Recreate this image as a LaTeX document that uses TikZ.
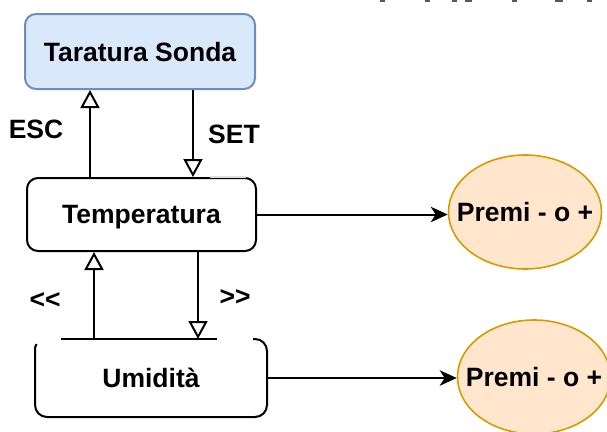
\documentclass[tikz,border=0pt]{standalone}
\usepackage{fontspec}
\setmainfont{Liberation Sans}
\usetikzlibrary{arrows.meta,calc,shapes.geometric}
\definecolor{blueFill}{HTML}{DAE8FC}
\definecolor{blueLine}{HTML}{6C8EBF}
\definecolor{orFill}{HTML}{FFE6CC}
\definecolor{orLine}{HTML}{D79B00}
\begin{document}
\begin{tikzpicture}[x=1pt,y=-1pt,
  every node/.style={font=\bfseries\fontsize{26.5}{30}\selectfont, inner sep=0pt, text depth=0pt},
  boxline/.style={draw=black, line width=2pt},
  box/.style={rectangle, rounded corners=11pt, line width=2pt, minimum width=#1, minimum height=74pt},
  oval/.style={ellipse, draw=orLine, fill=orFill, line width=1.6pt, inner xsep=-22pt, inner ysep=0pt, minimum width=153pt, minimum height=114pt},
  openarrow/.style={line width=2pt, -{Triangle[open, length=18pt, width=19pt, fill=white]}},
  solidarrow/.style={line width=2pt, -{Stealth[length=17pt, width=15.5pt, inset=5pt]}},
  lbl/.style={anchor=center},
  frag/.style={fill=black!65, draw=none}
]
\useasboundingbox (0,0) rectangle (607,431);

% partial text fragments at the very top edge
\fill[frag] (380,0) rectangle (385,2);
\fill[frag] (425,0) rectangle (430,2);
\fill[frag] (452,0) rectangle (457,2);
\fill[frag] (465,0) rectangle (472,2);
\fill[frag] (512,0) rectangle (517,2);
\fill[frag] (555,0) rectangle (563,2);
\fill[frag] (587,0) rectangle (592,2);

% nodes
\node[box=230pt, draw=blueLine, fill=blueFill, minimum height=75pt] (tar) at (140,51.5) {Taratura Sonda};
\node[box=229pt, draw=black, fill=white, minimum height=73pt] (temp) at (141.5,214.5) {Temperatura};
\node[box=230pt, draw=none, minimum height=76pt] (umi) at (151,378) {Umidit\`a};
\node[oval] (p1) at (525,212) {Premi - o +};
\node[oval] (p2) at (534,377) {Premi - o +};

% faint part of Temperatura top edge
\draw[draw=black!13, line width=2.3pt] ($(temp.north east)+(-47,0)$) -- ($(temp.north east)+(-11,0)$);

% Umidita outline (top edge partly hidden)
\draw[boxline, rounded corners=12pt] ($(umi.north east)+(-14,0)$) -- (umi.north east) -- (umi.south east) -- (umi.south west) -- ($(umi.north west)+(0,12)$);
\draw[boxline] ($(umi.north west)+(0,12.5)$) .. controls ($(umi.north west)+(0,8)$) .. ($(umi.north west)+(1.5,5)$);
\draw[boxline] ($(umi.north west)+(26,0)$) coordinate (ul) -- ($(umi.north west)+(182,0)$) coordinate (ur);

% connectors
\draw[openarrow] ([xshift=-51.5pt]temp.north) -- ([xshift=-51.5pt]temp.north |- tar.south);
\draw[openarrow] ([xshift=51.5pt]temp.north |- tar.south) -- ([xshift=51.5pt]temp.north);
\draw[openarrow] ([xshift=-47.5pt]temp.south |- ul) -- ([xshift=-47.5pt]temp.south);
\draw[openarrow] ([xshift=56.5pt]temp.south) -- ([xshift=56.5pt]temp.south |- ul);
\draw[solidarrow] (temp.east) -- (temp.east -| p1.west);
\draw[solidarrow] (umi.east) -- (umi.east -| p2.west);

% labels
\node[lbl] (esc) at (36,129) {ESC};
\node[lbl] (set) at (234,134) {SET};
\node[lbl] (prev) at (45,301) {<{}<};
\node[lbl] (next) at (235,298) {>{}>};
\end{tikzpicture}
\end{document}
